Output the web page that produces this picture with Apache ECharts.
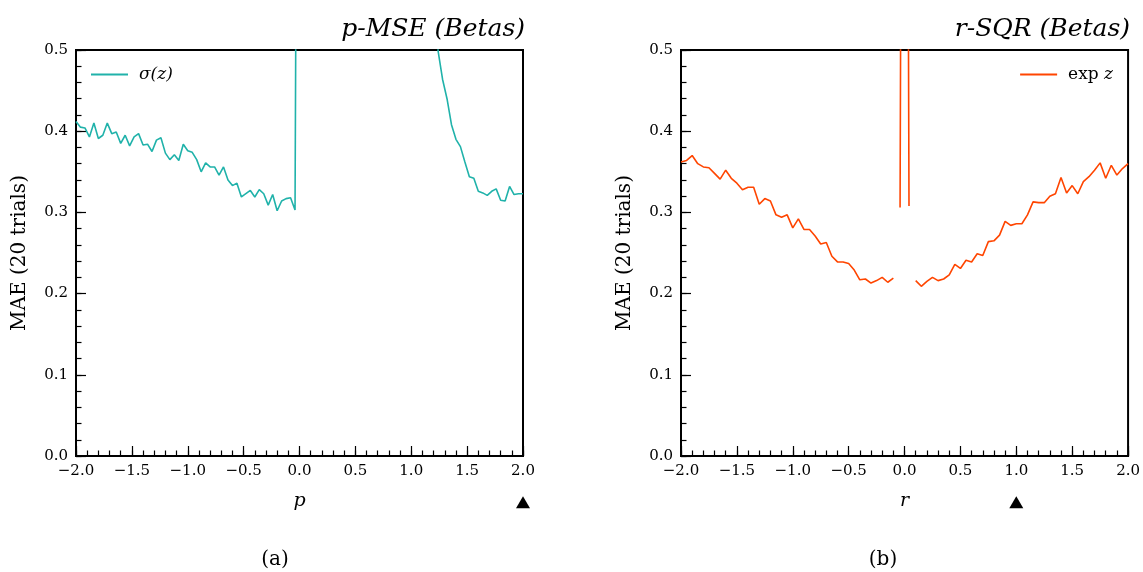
<!DOCTYPE html>
<html>
<head>
<meta charset="utf-8">
<script src="https://cdn.jsdelivr.net/npm/echarts@6/dist/echarts.min.js"></script>
<style>
  html, body { margin: 0; padding: 0; background: #fff; }
  #chart { width: 1143px; height: 572px; }
</style>
</head>
<body>
<div id="chart"></div>
<script>
// (a) p-MSE: sampled p, MAE over 20 trials (values between 0 and 1.2 run far above the plot)
var pX = [
  -2.00, -1.96, -1.92, -1.88, -1.84, -1.80, -1.76, -1.72, -1.68, -1.64,
  -1.60, -1.56, -1.52, -1.48, -1.44, -1.40, -1.36, -1.32, -1.28, -1.24,
  -1.20, -1.16, -1.12, -1.08, -1.04, -1.00, -0.96, -0.92, -0.88, -0.84,
  -0.80, -0.76, -0.72, -0.68, -0.64, -0.60, -0.56, -0.52, -0.48, -0.44,
  -0.40, -0.36, -0.32, -0.28, -0.24, -0.20, -0.16, -0.12, -0.08, -0.04,
  0.00, 1.20,
  1.24, 1.28, 1.32, 1.36, 1.40, 1.44, 1.48, 1.52, 1.56, 1.60,
  1.64, 1.68, 1.72, 1.76, 1.80, 1.84, 1.88, 1.92, 1.96, 2.00
];
var pMAE = [
  0.412, 0.405, 0.404, 0.393, 0.410, 0.391, 0.395, 0.410, 0.397, 0.399,
  0.385, 0.395, 0.382, 0.393, 0.397, 0.383, 0.384, 0.375, 0.389, 0.392,
  0.373, 0.365, 0.371, 0.364, 0.384, 0.376, 0.374, 0.365, 0.350, 0.361,
  0.356, 0.356, 0.346, 0.356, 0.340, 0.333, 0.336, 0.319, 0.323, 0.327,
  0.319, 0.328, 0.323, 0.309, 0.322, 0.302, 0.314, 0.317, 0.318, 0.303,
  1.60, 1.60,
  0.499, 0.464, 0.440, 0.408, 0.390, 0.381, 0.362, 0.344, 0.342, 0.326,
  0.324, 0.321, 0.326, 0.329, 0.315, 0.314, 0.332, 0.322, 0.323, 0.323
];

// (b) r-SQR: three pieces, the middle one shoots up out of the plot
var rXLeft = [
  -2.00, -1.95, -1.90, -1.85, -1.80, -1.75, -1.70, -1.65, -1.60, -1.55,
  -1.50, -1.45, -1.40, -1.35, -1.30, -1.25, -1.20, -1.15, -1.10, -1.05,
  -1.00, -0.95, -0.90, -0.85, -0.80, -0.75, -0.70, -0.65, -0.60, -0.55,
  -0.50, -0.45, -0.40, -0.35, -0.30, -0.25, -0.20, -0.15, -0.10
];
var rMAELeft = [
  0.362, 0.364, 0.370, 0.360, 0.356, 0.355, 0.348, 0.341, 0.352, 0.342,
  0.336, 0.328, 0.331, 0.331, 0.310, 0.317, 0.314, 0.297, 0.294, 0.297,
  0.281, 0.292, 0.279, 0.279, 0.271, 0.261, 0.263, 0.246, 0.239, 0.239,
  0.237, 0.229, 0.217, 0.218, 0.213, 0.216, 0.220, 0.214, 0.219
];
var rXSpike = [-0.04, 0.00, 0.04];
var rMAESpike = [0.306, 2.00, 0.308];
var rXRight = [
  0.10, 0.15, 0.20, 0.25, 0.30, 0.35, 0.40, 0.45, 0.50, 0.55,
  0.60, 0.65, 0.70, 0.75, 0.80, 0.85, 0.90, 0.95, 1.00, 1.05,
  1.10, 1.15, 1.20, 1.25, 1.30, 1.35, 1.40, 1.45, 1.50, 1.55,
  1.60, 1.65, 1.70, 1.75, 1.80, 1.85, 1.90, 1.95, 2.00
];
var rMAERight = [
  0.216, 0.209, 0.215, 0.220, 0.216, 0.218, 0.223, 0.236, 0.231, 0.241,
  0.239, 0.249, 0.247, 0.264, 0.265, 0.272, 0.289, 0.284, 0.286, 0.286,
  0.297, 0.313, 0.312, 0.312, 0.320, 0.323, 0.343, 0.324, 0.333, 0.323,
  0.338, 0.344, 0.352, 0.361, 0.342, 0.358, 0.346, 0.354, 0.360
];

// triangle markers under the x axes
var pMarker = [2.0];
var rMarker = [1.0];

var serif = "DejaVu Serif";
var teal = "#20b2aa";
var orange = "#ff4500";
var markerY = -0.057;

function zip(xs, ys) {
  var out = [];
  for (var i = 0; i < xs.length; i++) {
    out.push([xs[i], ys[i]]);
  }
  return out;
}

function tickLabel(v) {
  var s = Math.abs(v).toFixed(1);
  return v < 0 ? "\u2212" + s : s;
}

function makeX(gridIndex, name) {
  return {
    type: "value",
    gridIndex: gridIndex,
    position: "bottom",
    min: -2,
    max: 2,
    interval: 0.5,
    name: name,
    nameLocation: "middle",
    nameGap: 36,
    nameTextStyle: { fontFamily: serif, fontStyle: "italic", fontSize: 19, color: "#000" },
    axisLine: { show: true, onZero: false, lineStyle: { color: "#000", width: 2 } },
    axisTick: { show: true, inside: true, length: 10, lineStyle: { color: "#000", width: 1.2 } },
    axisLabel: { fontFamily: serif, fontSize: 15, color: "#000", margin: 8, formatter: tickLabel },
    splitLine: { show: false },
  };
}

// second, label-less axis that only carries the short inward ticks
function makeMinorX(gridIndex) {
  return {
    type: "value",
    gridIndex: gridIndex,
    position: "bottom",
    min: -2,
    max: 2,
    interval: 0.1,
    axisLine: { show: false, onZero: false },
    axisTick: { show: true, inside: true, length: 5.5, lineStyle: { color: "#000", width: 1.2 } },
    axisLabel: { show: false },
    splitLine: { show: false },
  };
}

function makeY(gridIndex) {
  return {
    type: "value",
    gridIndex: gridIndex,
    position: "left",
    min: 0,
    max: 0.5,
    interval: 0.1,
    name: "MAE (20 trials)",
    nameLocation: "middle",
    nameRotate: 90,
    nameGap: 46,
    nameTextStyle: { fontFamily: serif, fontSize: 20, color: "#000" },
    axisLine: { show: true, onZero: false, lineStyle: { color: "#000", width: 2 } },
    axisTick: { show: true, inside: true, length: 10, lineStyle: { color: "#000", width: 1.2 } },
    axisLabel: { fontFamily: serif, fontSize: 15, color: "#000", margin: 8, formatter: function (v) { return v.toFixed(1); } },
    splitLine: { show: false },
  };
}

function makeMinorY(gridIndex) {
  return {
    type: "value",
    gridIndex: gridIndex,
    position: "left",
    min: 0,
    max: 0.5,
    interval: 0.02,
    axisLine: { show: false, onZero: false },
    axisTick: { show: true, inside: true, length: 5.5, lineStyle: { color: "#000", width: 1.2 } },
    axisLabel: { show: false },
    splitLine: { show: false },
  };
}

function lineSeries(name, idx, data, color) {
  return {
    name: name,
    type: "line",
    xAxisIndex: idx,
    yAxisIndex: idx,
    data: data,
    symbol: "none",
    clip: true,
    lineStyle: { color: color, width: 1.6 },
    itemStyle: { color: color },
    animation: false,
  };
}

function markerSeries(idx, xs) {
  return {
    type: "scatter",
    xAxisIndex: idx,
    yAxisIndex: idx,
    clip: false,
    symbol: "triangle",
    symbolSize: [14, 12],
    itemStyle: { color: "#000", opacity: 1 },
    data: xs.map(function (x) { return [x, markerY]; }),
    silent: true,
    animation: false,
  };
}

var titleStyle = { fontFamily: serif, fontStyle: "italic", fontWeight: "normal", fontSize: 25, color: "#000" };

var option = {
  backgroundColor: "#fff",
  animation: false,
  title: [
    { text: "p-MSE (Betas)", right: 618, top: 17, padding: 0, textStyle: titleStyle },
    { text: "r-SQR (Betas)", right: 13, top: 17, padding: 0, textStyle: titleStyle },
    { text: "(a)", left: 270, top: 545, textAlign: "center", textStyle: { fontFamily: serif, fontWeight: "normal", fontSize: 20, color: "#000" } },
    { text: "(b)", left: 878, top: 545, textAlign: "center", textStyle: { fontFamily: serif, fontWeight: "normal", fontSize: 20, color: "#000" } },
  ],
  legend: [
    {
      data: ["σ(z)"],
      left: 91,
      top: 66,
      padding: 0,
      icon: "rect",
      itemWidth: 37,
      itemHeight: 1.8,
      textStyle: { fontFamily: serif, fontStyle: "italic", fontSize: 17, color: "#000", padding: [0, 0, 0, 6] },
    },
    {
      data: ["exp z"],
      right: 30,
      top: 66,
      padding: 0,
      icon: "rect",
      itemWidth: 37,
      itemHeight: 1.8,
      formatter: function () { return "{u|exp }{i|z}"; },
      textStyle: {
        fontFamily: serif,
        fontSize: 17,
        color: "#000",
        padding: [0, 0, 0, 6],
        rich: {
          u: { fontFamily: serif, fontSize: 17, color: "#000" },
          i: { fontFamily: serif, fontSize: 17, fontStyle: "italic", color: "#000" },
        },
      },
    },
  ],
  grid: [
    { left: 76, right: 620, top: 50, bottom: 116, show: true, borderColor: "#000", borderWidth: 2, backgroundColor: "transparent" },
    { left: 681, right: 14, top: 50, bottom: 116, show: true, borderColor: "#000", borderWidth: 2, backgroundColor: "transparent" },
  ],
  xAxis: [makeX(0, "p"), makeX(1, "r"), makeMinorX(0), makeMinorX(1)],
  yAxis: [makeY(0), makeY(1), makeMinorY(0), makeMinorY(1)],
  series: [
    lineSeries("σ(z)", 0, zip(pX, pMAE), teal),
    lineSeries("exp z", 1, zip(rXLeft, rMAELeft), orange),
    lineSeries("exp z", 1, zip(rXSpike, rMAESpike), orange),
    lineSeries("exp z", 1, zip(rXRight, rMAERight), orange),
    markerSeries(0, pMarker),
    markerSeries(1, rMarker),
  ],
};

var chart = echarts.init(document.getElementById("chart"), null, { renderer: "canvas" });
chart.setOption(option);
</script>
</body>
</html>
